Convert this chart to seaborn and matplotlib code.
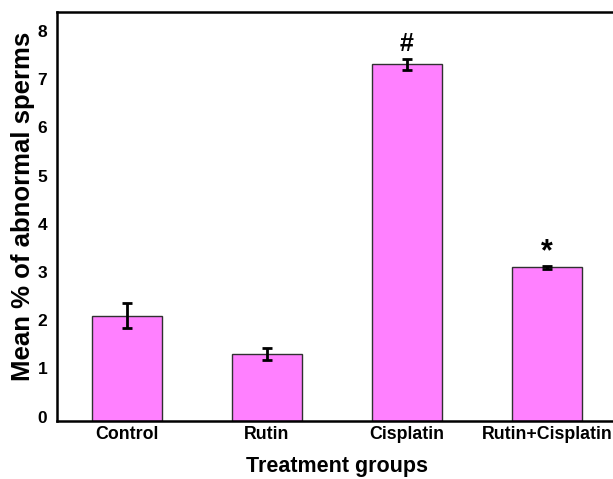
import matplotlib
matplotlib.use("Agg")
import matplotlib.pyplot as plt
import matplotlib.transforms as mtransforms
import seaborn as sns
import pandas as pd

groups = ["Control", "Rutin", "Cisplatin", "Rutin+Cisplatin"]
means = [2.18, 1.38, 7.39, 3.18]
sems = [0.26, 0.125, 0.12, 0.03]
marks = ["", "", "#", "*"]
yticks = [0, 1, 2, 3, 4, 5, 6, 7, 8]

sns.set_style("white")
plt.rcParams["font.family"] = ["Liberation Sans", "DejaVu Sans"]
plt.rcParams["font.weight"] = "bold"
plt.rcParams["text.color"] = "black"
plt.rcParams["axes.labelcolor"] = "black"

df = pd.DataFrame({"group": groups, "mean": means})

fig = plt.figure(figsize=(6.13, 4.79), dpi=100)
ax = fig.add_axes([57 / 613, 1 - 420.7 / 479, 560 / 613, (420.7 - 12.3) / 479])

sns.barplot(data=df, x="group", y="mean", order=groups, color="#FF80FF",
            saturation=1, width=0.5, edgecolor="#303030", linewidth=1.0,
            errorbar=None, ax=ax)

xpos = list(range(len(groups)))
ax.errorbar(xpos, means, yerr=sems, fmt="none", ecolor="black",
            elinewidth=2.0, capsize=3.3, capthick=2.0, zorder=5)

mark_sizes = {"#": 18, "*": 22}
mark_offsets = {"#": 0.30, "*": 0.28}
for x, m, s, t in zip(xpos, means, sems, marks):
    if t:
        ax.text(x, m + s + mark_offsets[t], t, ha="center", va="center",
                fontsize=mark_sizes[t], fontweight="bold", color="black")

ax.set_xlim(-0.5, 3.5)
ax.set_ylim(0, 8.47)
ax.set_yticks(yticks)
ax.set_yticklabels([str(v) for v in yticks])

ax.tick_params(axis="both", length=0, labelcolor="black")
ax.tick_params(axis="y", pad=7, labelsize=12.5)
ax.tick_params(axis="x", pad=4, labelsize=12.8)
for lab in ax.get_yticklabels():
    lab.set_fontweight("bold")
    lab.set_transform(lab.get_transform() +
                      mtransforms.ScaledTranslation(0, 4 / 100, fig.dpi_scale_trans))
for lab in ax.get_xticklabels():
    lab.set_fontweight("bold")

ax.set_xlabel("Treatment groups", fontsize=15.5, fontweight="bold",
              color="black", labelpad=9)
ax.set_ylabel("Mean % of abnormal sperms", fontsize=18.5, fontweight="bold",
              color="black", labelpad=2)
ax.yaxis.label.set_y(0.524)

for side in ["left", "top", "bottom"]:
    ax.spines[side].set_visible(True)
    ax.spines[side].set_color("black")
    ax.spines[side].set_linewidth(1.8)
ax.spines["right"].set_visible(False)

fig.savefig("out.png", dpi=100)
